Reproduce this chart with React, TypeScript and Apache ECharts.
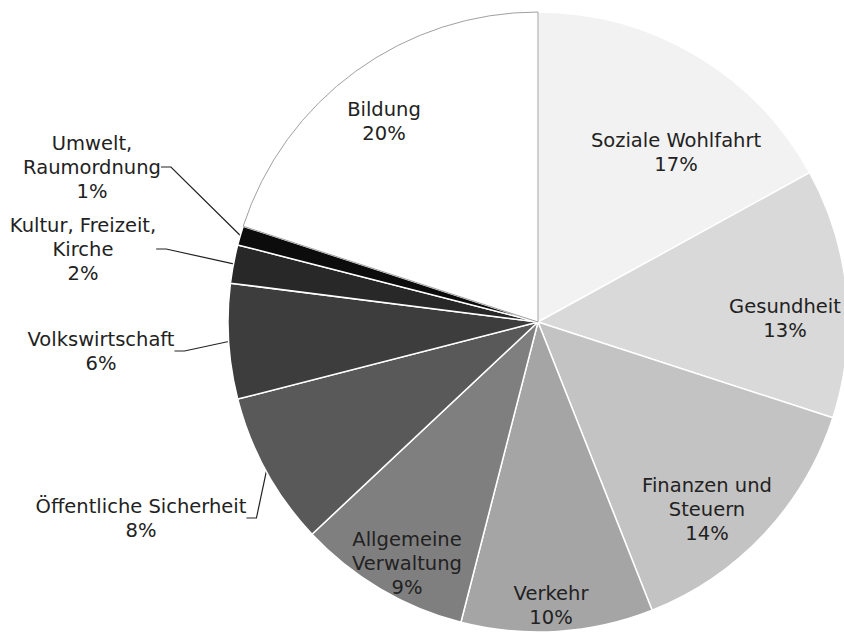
import React, { useEffect, useRef } from "react";
import * as echarts from "echarts";

const categories = [
  "Soziale Wohlfahrt",
  "Gesundheit",
  "Finanzen und Steuern",
  "Verkehr",
  "Allgemeine Verwaltung",
  "Öffentliche Sicherheit",
  "Volkswirtschaft",
  "Kultur, Freizeit, Kirche",
  "Umwelt, Raumordnung",
  "Bildung",
];
const labelTexts = [
  "Soziale Wohlfahrt",
  "Gesundheit",
  "Finanzen und\nSteuern",
  "Verkehr",
  "Allgemeine\nVerwaltung",
  "Öffentliche Sicherheit",
  "Volkswirtschaft",
  "Kultur, Freizeit,\nKirche",
  "Umwelt,\nRaumordnung",
  "Bildung",
];
const shares = [17, 13, 14, 10, 9, 8, 6, 2, 1, 20];
const colors = [
  "#f2f2f2",
  "#d9d9d9",
  "#c3c3c3",
  "#a5a5a5",
  "#7f7f7f",
  "#595959",
  "#3d3d3d",
  "#282828",
  "#0c0c0c",
  "#ffffff",
];
const outside = [false, false, false, false, false, true, true, true, true, false];

// label anchor positions (layout only)
const LABEL_POS: [number, number][] = [
  [676, 152],
  [785, 318],
  [707, 509],
  [551, 605],
  [407, 563],
  [141, 518],
  [101, 351],
  [83, 249],
  [92, 167],
  [384, 121],
];

export default function App() {
  const ref = useRef<HTMLDivElement>(null);
  useEffect(() => {
    document.body.style.margin = "0";
    if (!ref.current) return;
    const chart = echarts.init(ref.current, null, { renderer: "svg" });
    const data = categories.map((name, i) => ({
      name,
      value: shares[i],
      itemStyle: {
        color: colors[i],
        borderColor: i === 9 ? "#a0a0a0" : "#ffffff",
        borderWidth: i === 9 ? 1 : 1.5,
      },
      label: {
        position: outside[i] ? "outside" : "inside",
        formatter: labelTexts[i] + "\n" + shares[i] + "%",
      },
      labelLine: { show: outside[i] },
    }));
    chart.setOption({
      animation: false,
      backgroundColor: "#ffffff",
      series: [
        {
          type: "pie",
          center: [538, 322],
          radius: [0, 310],
          startAngle: 90,
          clockwise: true,
          avoidLabelOverlap: false,
          data,
          label: {
            show: true,
            fontFamily: "DejaVu Sans",
            fontSize: 19.5,
            lineHeight: 24,
            color: "#222222",
            align: "center",
          },
          labelLine: {
            show: true,
            length: 10,
            length2: 10,
            lineStyle: { color: "#222222", width: 1.2 },
          },
          labelLayout: (p: any) => {
            const pos = LABEL_POS[p.dataIndex];
            return {
              x: pos[0],
              y: pos[1],
              align: "center",
              verticalAlign: "middle",
            };
          },
          emphasis: { disabled: true },
        },
      ],
    });
    return () => chart.dispose();
  }, []);
  return <div ref={ref} style={{ width: 844, height: 635 }} />;
}
